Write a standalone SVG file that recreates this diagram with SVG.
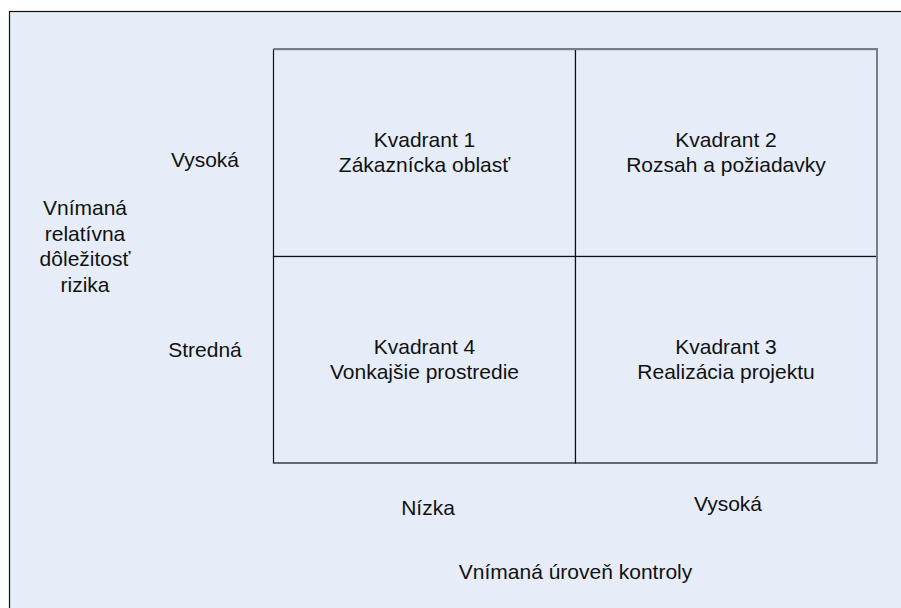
<svg xmlns="http://www.w3.org/2000/svg" width="901" height="608" viewBox="0 0 901 608">
<style>
text{font-family:"Liberation Sans",Arial,sans-serif;font-size:21px;fill:#111;text-anchor:middle}
.cell{fill:#E6EDF8;stroke:#111;stroke-width:1.2}
.edge{stroke:#7a7d82;stroke-width:2;fill:none}
</style>
<rect x="0" y="0" width="901" height="608" fill="#ffffff"/>
<rect id="frame" x="9.5" y="11.5" width="900" height="610" fill="#E6EDF8" stroke="#111" stroke-width="1.2"/>
<g id="q1"><rect class="cell" x="273.5" y="49.5" width="302" height="207"/><text x="424.5" y="147">Kvadrant 1</text><text x="424.5" y="172">Zákaznícka oblasť</text></g>
<g id="q2"><rect class="cell" x="575.5" y="49.5" width="301.5" height="207"/><text x="726" y="147">Kvadrant 2</text><text x="726" y="172">Rozsah a požiadavky</text></g>
<g id="q4"><rect class="cell" x="273.5" y="256.5" width="302" height="206.5"/><text x="424.5" y="354">Kvadrant 4</text><text x="424.5" y="379">Vonkajšie prostredie</text></g>
<g id="q3"><rect class="cell" x="575.5" y="256.5" width="301.5" height="206.5"/><text x="726" y="354">Kvadrant 3</text><text x="726" y="379">Realizácia projektu</text></g>
<g id="connectors"><path class="edge" d="M273.5 49 H877 V463"/></g>
<g id="labels">
<text x="205" y="167">Vysoká</text>
<text x="205" y="357">Stredná</text>
<text x="85" y="215">Vnímaná</text>
<text x="85" y="241">relatívna</text>
<text x="85" y="266">dôležitosť</text>
<text x="85" y="292">rizika</text>
<text x="428" y="515">Nízka</text>
<text x="728" y="511">Vysoká</text>
<text x="575.5" y="579">Vnímaná úroveň kontroly</text>
</g>
</svg>
